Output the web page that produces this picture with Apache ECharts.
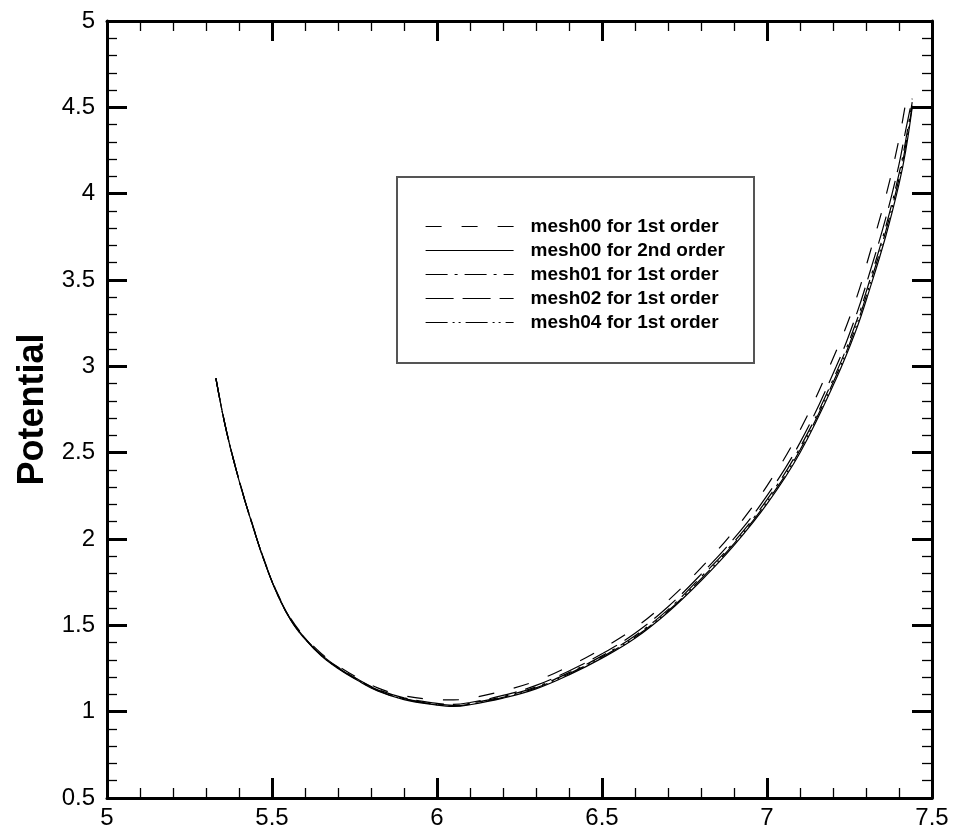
<!DOCTYPE html>
<html>
<head>
<meta charset="utf-8">
<script src="https://cdn.jsdelivr.net/npm/echarts@6/dist/echarts.min.js"></script>
<style>
html,body{margin:0;padding:0;background:#fff;}
#chart{width:957px;height:834px;}
</style>
</head>
<body>
<div id="chart"></div>
<script>
// ---- data ----
const seriesNames = [
  'mesh00 for 1st order',
  'mesh00 for 2nd order',
  'mesh01 for 1st order',
  'mesh02 for 1st order',
  'mesh04 for 1st order'
];
const xs = [5.33, 5.36, 5.40, 5.44, 5.48, 5.52, 5.56, 5.60, 5.65, 5.70, 5.76, 5.82, 5.90, 6.00, 6.05, 6.10, 6.20,
            6.30, 6.40, 6.50, 6.60, 6.70, 6.80, 6.90, 7.00, 7.10, 7.21, 7.27, 7.31, 7.36, 7.40, 7.42, 7.44];
const mesh00First = [2.93, 2.645, 2.345, 2.09, 1.86, 1.671, 1.53, 1.432, 1.336, 1.265, 1.196, 1.138, 1.092, 1.070, 1.068, 1.078, 1.120,
            1.178, 1.263, 1.365, 1.485, 1.643, 1.833, 2.048, 2.308, 2.630, 3.090, 3.390, 3.645, 3.985, 4.315, 4.525, null];
const mesh00Second = [2.93, 2.64, 2.34, 2.085, 1.853, 1.663, 1.52, 1.42, 1.322, 1.25, 1.18, 1.12, 1.07, 1.038, 1.030, 1.040, 1.078,
            1.132, 1.213, 1.310, 1.425, 1.576, 1.758, 1.963, 2.203, 2.500, 2.930, 3.210, 3.440, 3.755, 4.055, 4.245, 4.500];
const mesh01First = [2.93, 2.641, 2.341, 2.086, 1.855, 1.666, 1.523, 1.424, 1.327, 1.255, 1.185, 1.126, 1.076, 1.044, 1.037, 1.048, 1.087,
            1.143, 1.226, 1.323, 1.440, 1.591, 1.780, 1.983, 2.228, 2.530, 2.965, 3.255, 3.490, 3.810, 4.115, 4.305, 4.530];
const mesh02First = [2.932, 2.642, 2.342, 2.087, 1.856, 1.667, 1.525, 1.426, 1.329, 1.258, 1.188, 1.129, 1.080, 1.048, 1.042, 1.053, 1.094,
            1.152, 1.236, 1.335, 1.454, 1.608, 1.795, 2.003, 2.251, 2.558, 3.000, 3.295, 3.535, 3.860, 4.170, 4.365, 4.550];
const mesh04First = [2.93, 2.640, 2.340, 2.085, 1.854, 1.665, 1.522, 1.422, 1.325, 1.253, 1.183, 1.123, 1.073, 1.041, 1.033, 1.044, 1.083,
            1.138, 1.220, 1.317, 1.432, 1.583, 1.769, 1.973, 2.215, 2.515, 2.948, 3.232, 3.465, 3.783, 4.085, 4.275, 4.510];
const xTicks = [5, 5.5, 6, 6.5, 7, 7.5];
const yTicks = [0.5, 1, 1.5, 2, 2.5, 3, 3.5, 4, 4.5, 5];
const yTitle = 'Potential';

// ---- build ----
const allY = [mesh00First, mesh00Second, mesh01First, mesh02First, mesh04First];
const dashes = [[16, 20], 'solid', [22, 7, 3, 7], [28, 9], [22, 5, 2, 4, 2, 5]];
const FONT = '"Liberation Sans", Arial, Helvetica, sans-serif';

function pairs(ys) { return xs.map((x, i) => [x, ys[i]]); }

const series = seriesNames.map((name, k) => ({
  name: name,
  type: 'line',
  xAxisIndex: 0,
  yAxisIndex: 0,
  data: pairs(allY[k]),
  showSymbol: false,
  symbol: 'none',
  smooth: 0.4,
  connectNulls: false,
  lineStyle: { color: '#000', width: 1.2, type: dashes[k] },
  itemStyle: { color: '#000' },
  emphasis: { disabled: true },
  animation: false,
  z: 3
}));

function xAxisDef(pos, labels) {
  return {
    type: 'value', position: pos, min: xTicks[0], max: xTicks[xTicks.length - 1],
    interval: 0.5,
    axisLine: { show: true, onZero: false, lineStyle: { color: '#000', width: 3 } },
    axisTick: { show: true, inside: true, length: 20, lineStyle: { color: '#000', width: 3 } },
    minorTick: { show: true, splitNumber: 5, length: 10, lineStyle: { color: '#000', width: 1.3 } },
    splitLine: { show: false },
    axisLabel: { show: labels, color: '#000', fontSize: 24, fontFamily: FONT, margin: 8,
                 showMinLabel: true, showMaxLabel: true },
  };
}
function yAxisDef(pos, labels) {
  const a = {
    type: 'value', position: pos, min: yTicks[0], max: yTicks[yTicks.length - 1],
    interval: 0.5,
    axisLine: { show: true, onZero: false, lineStyle: { color: '#000', width: 3 } },
    axisTick: { show: true, inside: true, length: 20, lineStyle: { color: '#000', width: 3 } },
    minorTick: { show: true, splitNumber: 5, length: 10, lineStyle: { color: '#000', width: 1.3 } },
    splitLine: { show: false },
    axisLabel: { show: labels, color: '#000', fontSize: 24, fontFamily: FONT, margin: 12,
                 showMinLabel: true, showMaxLabel: true },
  };
  if (labels) {
    a.name = yTitle;
    a.nameLocation = 'middle';
    a.nameRotate = 90;
    a.nameGap = 54;
    a.nameTextStyle = { color: '#000', fontSize: 36, fontWeight: 'bold', fontFamily: FONT };
  }
  return a;
}

const chart = echarts.init(document.getElementById('chart'), null, { renderer: 'canvas' });
chart.setOption({
  animation: false,
  backgroundColor: '#fff',
  grid: { left: 107, right: 25, top: 21, bottom: 36, containLabel: false },
  xAxis: [xAxisDef('bottom', true), xAxisDef('top', false)],
  yAxis: [yAxisDef('left', true), yAxisDef('right', false)],
  legend: {
    data: seriesNames,
    orient: 'vertical',
    left: 425,
    top: 217,
    itemWidth: 88,
    itemHeight: 12,
    itemGap: 5,
    padding: 0,
    selectedMode: false,
    itemStyle: { opacity: 0 },
    lineStyle: { color: '#000', width: 1.2 },
    textStyle: { color: '#000', fontSize: 19, fontWeight: 'bold', fontFamily: FONT,
                 lineHeight: 19, padding: [0, 0, 0, 12] }
  },
  graphic: [{
    type: 'rect',
    shape: { x: 397, y: 177, width: 357, height: 186 },
    style: { fill: 'rgba(0,0,0,0)', stroke: '#555', lineWidth: 2 },
    z: 10, silent: true
  }],
  series: series
});
</script>
</body>
</html>
